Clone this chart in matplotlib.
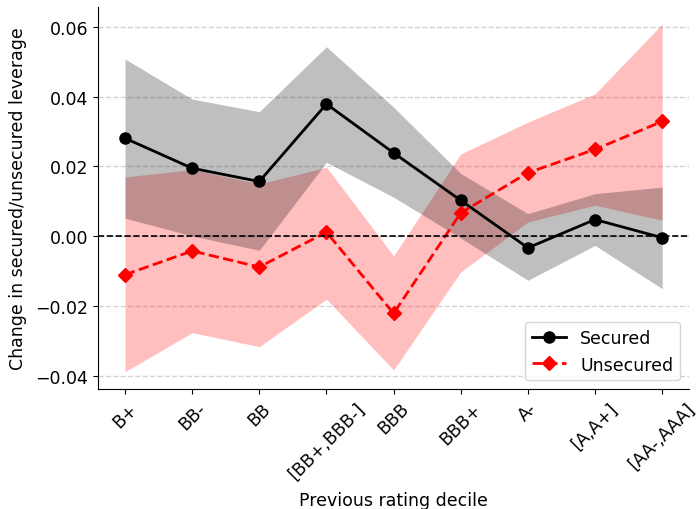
import numpy as np
import matplotlib
matplotlib.use("Agg")
import matplotlib.pyplot as plt

# rating buckets
labels = ["B+", "BB-", "BB", "[BB+,BBB-]", "BBB", "BBB+", "A-", "[A,A+]", "[AA-,AAA]"]

# secured leverage change + band
sec = [0.0281, 0.0195, 0.0157, 0.0379, 0.0239, 0.0103, -0.0033, 0.0048, -0.0004]
sec_lo = [0.0052, 0.0001, -0.0040, 0.0212, 0.0112, -0.0005, -0.0126, -0.0026, -0.0150]
sec_hi = [0.0508, 0.0393, 0.0357, 0.0543, 0.0370, 0.0180, 0.0065, 0.0122, 0.0141]

# unsecured leverage change + band
uns = [-0.0110, -0.0042, -0.0088, 0.0012, -0.0221, 0.0067, 0.0182, 0.0249, 0.0329]
uns_lo = [-0.0388, -0.0276, -0.0316, -0.0180, -0.0383, -0.0102, 0.0041, 0.0089, 0.0046]
uns_hi = [0.0170, 0.0191, 0.0150, 0.0198, -0.0056, 0.0236, 0.0327, 0.0408, 0.0608]

x = np.arange(len(labels))

fig = plt.figure(figsize=(6.96, 5.1), dpi=100)
ax = fig.add_subplot(111)

# red band first, then the black one on top (gives the mauve overlap)
ax.fill_between(x, uns_lo, uns_hi, color="red", alpha=0.25, lw=0)
ax.fill_between(x, sec_lo, sec_hi, color="k", alpha=0.25, lw=0)
ax.plot(x, sec, "k-o", lw=2, ms=8, label="Secured")
ax.plot(x, uns, "r--D", lw=2, ms=7, label="Unsecured")
ax.axhline(0, color="k", ls="--", lw=1.2)

ax.yaxis.grid(True, ls="--", color="lightgray", lw=1)
ax.set_axisbelow(True)
ax.spines["top"].set_visible(False)
ax.spines["right"].set_visible(False)

ax.set_xticks(x)
ax.set_xticklabels(labels, rotation=45, fontsize=12.5)
ax.tick_params(axis="y", labelsize=12.5)
ax.set_xlabel("Previous rating decile", fontsize=12.5, labelpad=6)
ax.set_ylabel("Change in secured/unsecured leverage", fontsize=12.5, labelpad=6)
ax.legend(loc="lower right", fontsize=12.5)

fig.subplots_adjust(left=0.141, right=0.99, top=0.985, bottom=0.235)
fig.savefig("out.png")
